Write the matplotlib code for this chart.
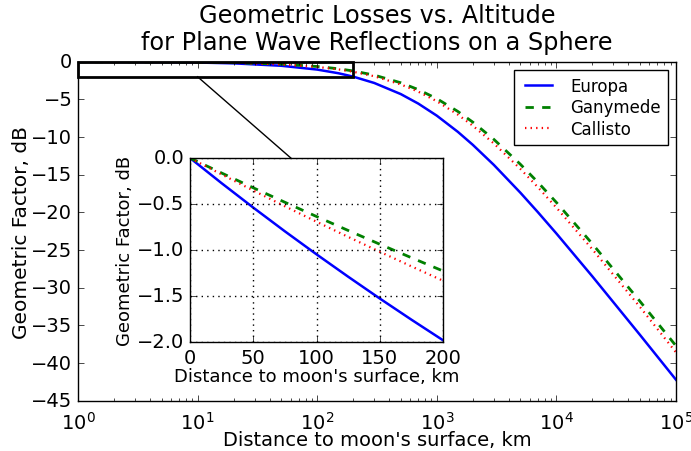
import matplotlib
matplotlib.use("Agg")
import matplotlib.pyplot as plt
from matplotlib.patches import Rectangle

plt.style.use("classic")
plt.rcParams["mathtext.fontset"] = "dejavusans"
plt.rcParams["font.family"] = ["DejaVu Sans"]

# Distance to moon's surface (km) and geometric factor (dB)
distance_km = [1, 2, 5, 10, 20, 50, 100, 150, 200, 300, 500, 700, 1000, 1500,
               2000, 3000, 5000, 7000, 10000, 20000, 50000, 100000]
europa_db = [-0.0111, -0.0222, -0.0555, -0.1106, -0.2198, -0.539, -1.047, -1.527,
             -1.981, -2.825, -4.300, -5.561, -7.163, -9.313, -11.035, -13.703,
             -17.392, -19.973, -22.805, -28.506, -36.267, -42.220]
ganymede_db = [-0.0066, -0.0132, -0.0329, -0.0657, -0.1309, -0.3237, -0.6357, -0.9369,
               -1.228, -1.782, -2.795, -3.702, -4.907, -6.604, -8.023, -10.312,
               -13.619, -16.007, -18.683, -24.183, -31.814, -37.722]
callisto_db = [-0.0072, -0.0144, -0.0360, -0.0718, -0.1430, -0.3531, -0.6925, -1.019,
               -1.334, -1.931, -3.015, -3.978, -5.248, -7.024, -8.497, -10.856,
               -14.235, -16.662, -19.369, -24.909, -32.566, -38.587]

# Inset (zoom) data
inset_km = [0, 25, 50, 75, 100, 125, 150, 175, 200]
inset_europa = [0.0, -0.2738, -0.539, -0.7969, -1.047, -1.290, -1.527, -1.757, -1.981]
inset_ganymede = [0.0, -0.1633, -0.3237, -0.4811, -0.6357, -0.7876, -0.9369, -1.0837, -1.228]
inset_callisto = [0.0, -0.1784, -0.3531, -0.5245, -0.6925, -0.8573, -1.019, -1.1778, -1.334]

names = ["Europa", "Ganymede", "Callisto"]
colors = ["b", "g", "r"]
styles = ["-", "--", ":"]
widths = [1.8, 2.0, 1.6]

fig = plt.figure(figsize=(6.91, 4.52), dpi=100, facecolor="white")
ax = fig.add_axes([78/691, 1-401.7/452, 598/691, 339/452])
for y, n, c, s, w in zip([europa_db, ganymede_db, callisto_db], names, colors, styles, widths):
    ax.plot(distance_km, y, color=c, ls=s, lw=w, label=n)
ax.set_xscale("log")
ax.set_xlim(1, 1e5)
ax.set_ylim(-45, 0)
ax.set_yticks(range(-45, 1, 5))
ax.tick_params(labelsize=14)
ax.tick_params(axis="x", which="major", pad=7)
ax.set_xlabel("Distance to moon's surface, km", fontsize=14)
ax.xaxis.set_label_coords(0.5, -0.087)
ax.set_ylabel("Geometric Factor, dB", fontsize=14.5)
ax.yaxis.set_label_coords(-0.079, 0.5)
ax.set_title("Geometric Losses vs. Altitude\nfor Plane Wave Reflections on a Sphere",
             fontsize=17.3, linespacing=1.18, pad=9)
leg = ax.legend(loc="upper right", fontsize=12, borderaxespad=0.5,
                labelspacing=0.22, borderpad=0.4, handlelength=2.2)
leg.get_frame().set_linewidth(1.0)

# zoom rectangle and connector
ax.add_patch(Rectangle((1, -2), 199, 2, fill=False, ec="k", lw=2, zorder=5, clip_on=False))
ax.plot([10, 200], [-2, -20], color="k", lw=1, zorder=1)

ins = fig.add_axes([190/691, 1-343/452, 253/691, 184/452])
for y, n, c, s, w in zip([inset_europa, inset_ganymede, inset_callisto], names, colors, styles, widths):
    ins.plot(inset_km, y, color=c, ls=s, lw=w)
ins.set_xlim(0, 200)
ins.set_ylim(-2, 0)
ins.set_xticks([0, 50, 100, 150, 200])
ins.set_yticks([-2.0, -1.5, -1.0, -0.5, 0.0])
ins.grid(True, color="k", ls=":", lw=1)
ins.tick_params(labelsize=14)
ins.set_xlabel("Distance to moon's surface, km", fontsize=13, labelpad=0)
ins.set_ylabel("Geometric Factor, dB", fontsize=13, labelpad=2)

fig.savefig("out.png", dpi=100, facecolor="white")
